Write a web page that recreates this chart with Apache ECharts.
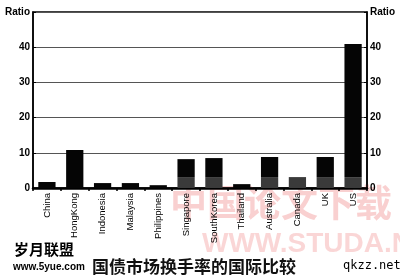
<!DOCTYPE html>
<html><head><meta charset="utf-8">
<script src="https://cdn.jsdelivr.net/npm/echarts@6/dist/echarts.min.js"></script>
<style>html,body{margin:0;padding:0;background:#fff}#c{width:400px;height:278px}</style>
</head><body><div id="c"></div>
<script>
const categories = ['China','HongKong','Indonesia','Malaysia','Philippines','Singapore','SouthKorea','Thailand','Australia','Canada','UK','US'];
const lowerPart = [0, 0, 0, 0, 0, 3.1, 3.1, 0, 3.1, 3.1, 3.1, 3.1];
const upperPart = [1.7, 10.8, 1.4, 1.4, 0.8, 5.1, 5.4, 1.1, 5.7, 0, 5.7, 37.8];
const yTicks = [0, 10, 20, 30, 40];
const axisName = 'Ratio';
const title = '国债市场换手率的国际比较';

const chart = echarts.init(document.getElementById('c'), null, {renderer:'canvas'});
const yLabel = v => (v === 50 ? axisName : (yTicks.includes(v) ? String(v) : ''));
const yAxisBase = {
  type:'value', min:0, max:50, interval:10,
  axisLine:{show:true, lineStyle:{color:'#000', width:1.5}},
  axisTick:{show:true, length:3, inside:true, lineStyle:{color:'#000'}},
  splitLine:{show:true, lineStyle:{color:'#555', width:1}},
  axisLabel:{formatter:yLabel, color:'#000', fontWeight:'bold', fontSize:10, fontFamily:'Liberation Sans', margin:3}
};
chart.setOption({
  animation:false,
  grid:{left:33, right:33, top:12, bottom:90, show:true, borderColor:'#000', borderWidth:1.5, backgroundColor:'transparent'},
  xAxis:{
    type:'category', data:categories,
    axisLine:{lineStyle:{color:'#000', width:2.5}},
    axisTick:{show:true, alignWithLabel:false, length:3, lineStyle:{color:'#000', width:1.5}},
    axisLabel:{rotate:90, color:'#000', fontSize:9.5, fontFamily:'Liberation Sans', margin:5, interval:0}
  },
  yAxis:[
    Object.assign({}, yAxisBase, {position:'left'}),
    Object.assign({}, yAxisBase, {position:'right', splitLine:{show:false}})
  ],
  series:[
    {type:'bar', stack:'a', data:lowerPart, barWidth:'62%', itemStyle:{color:'#3a3a3a'}, z:3},
    {type:'bar', stack:'a', data:upperPart, barWidth:'62%', itemStyle:{color:'#050505'}, z:3}
  ],
  graphic:[
    {type:'text', left:170, top:184, z:0, style:{text:'中国论文下载', fontSize:37, fontWeight:'bold', fontFamily:'Noto Sans CJK SC', fill:'rgba(238,120,120,0.35)'}},
    {type:'text', left:202, top:230, z:0, style:{text:'WWW.STUDA.NET', fontSize:28, fontWeight:'bold', fontFamily:'Liberation Sans', fill:'rgba(238,120,120,0.3)'}},
    {type:'text', left:14, top:242, style:{text:'岁月联盟', fontSize:15, fontWeight:'bold', fontFamily:'Noto Sans CJK SC', fill:'#000', letterSpacing:2}},
    {type:'text', left:13, top:262, style:{text:'www.5yue.com', fontSize:10, fontWeight:'bold', fontFamily:'Liberation Sans', fill:'#000'}},
    {type:'text', left:92, top:258, style:{text:title, fontSize:17, fontWeight:'bold', fontFamily:'Noto Sans CJK SC', fill:'#111'}},
    {type:'text', left:343, top:260, style:{text:'qkzz.net', fontSize:12, fontFamily:'DejaVu Sans Mono', fill:'#000'}}
  ]
});
</script></body></html>
